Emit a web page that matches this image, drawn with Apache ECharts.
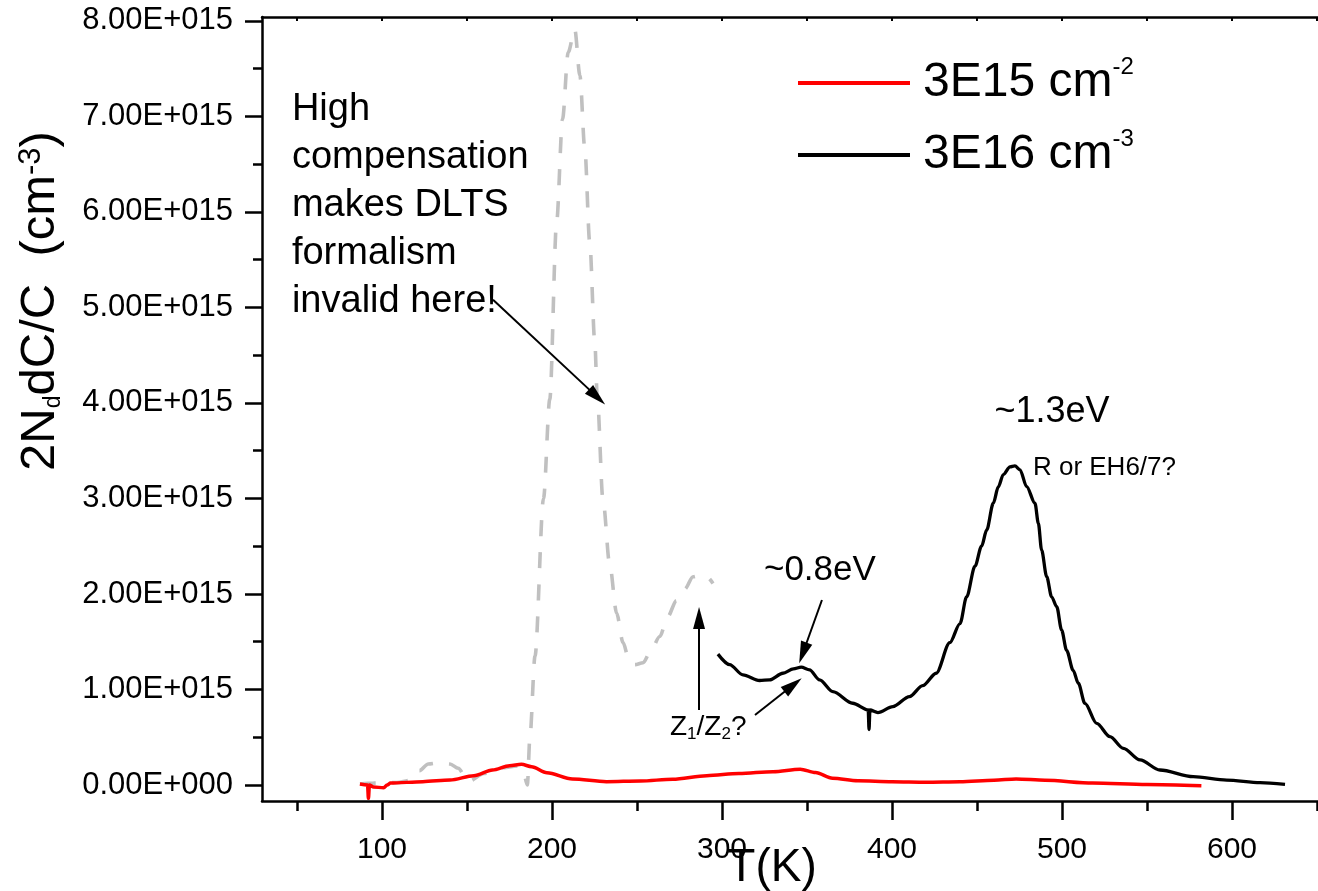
<!DOCTYPE html>
<html><head><meta charset="utf-8">
<script src="https://cdn.jsdelivr.net/npm/echarts@6/dist/echarts.min.js"></script>
<style>html,body{margin:0;padding:0;background:#fff}#c{width:1318px;height:891px}</style>
</head><body><div id="c"></div>
<script>
const FONT = '"Liberation Sans", Arial, Helvetica, sans-serif';

// ---- tick labels / ticks ----
const xMajorTicks = [100, 200, 300, 400, 500, 600];
const xMinorTicks = [50, 150, 250, 350, 450, 550, 650];
const xTopTicks = [50, 100, 150, 200, 250, 300, 350, 400, 450, 500, 550, 600, 650];
const yMajorTicks = [0, 1, 2, 3, 4, 5, 6, 7, 8];           // units of 1E+015
const yMinorTicks = [0.5, 1.5, 2.5, 3.5, 4.5, 5.5, 6.5, 7.5];

// ---- series names ----
const seriesNames = ['3E15 cm-2', '3E16 cm-3'];

// ---- red: 3E15 cm-2 (T in K, value in 1E15 cm-3) ----
const redT = [87, 91.5, 92, 92.6, 95, 101, 103, 105, 124, 140, 154, 165, 175, 182, 188, 197, 212, 232, 252, 271, 291, 310, 330, 346, 355, 365, 380, 400, 420, 440, 460, 473, 490, 518, 550, 582];
const redV = [0.01, 0.0, -0.14, 0.0, -0.02, -0.03, 0.0, 0.02, 0.035, 0.052, 0.098, 0.157, 0.202, 0.217, 0.192, 0.129, 0.063, 0.035, 0.042, 0.06, 0.098, 0.12, 0.14, 0.165, 0.13, 0.07, 0.045, 0.035, 0.03, 0.035, 0.05, 0.063, 0.05, 0.02, 0.005, -0.007];

// ---- black: 3E16 cm-3 ----
const blackT = [297.6, 304.5, 312.3, 322.1, 328.0, 335.8, 342.0, 346.6, 351.5, 357.4, 365.2, 376.9, 386.0, 386.5, 387.0, 391.7, 400.5, 410.3, 418, 426, 434, 440, 443.9, 448.8, 452.7, 455.7, 459.6, 462.5, 465.5, 469.4, 472.3, 475.3, 479.2, 484.1, 486.1, 488, 491, 493.9, 496.9, 499.8, 502.7, 506.6, 509.6, 513.5, 520.4, 528.2, 536.1, 545.9, 557.6, 577.2, 596.9, 616.5, 631.2];
const blackV = [1.37, 1.26, 1.153, 1.094, 1.10, 1.17, 1.215, 1.234, 1.206, 1.10, 0.978, 0.856, 0.785, 0.58, 0.785, 0.758, 0.82, 0.926, 1.04, 1.17, 1.49, 1.69, 1.97, 2.29, 2.50, 2.67, 2.95, 3.12, 3.25, 3.33, 3.34, 3.30, 3.124, 2.95, 2.74, 2.46, 2.18, 1.97, 1.867, 1.62, 1.41, 1.20, 1.065, 0.855, 0.646, 0.506, 0.384, 0.262, 0.157, 0.087, 0.052, 0.024, 0.007];

// ---- grey dashed (invalid region) ----
const greyT = [87, 95, 108.6, 116.5, 122, 127.2, 134, 140, 144.8, 150.7, 160, 170, 180, 183, 185.5, 187, 190, 195, 198.7, 202.7, 206.2, 209.5, 213.4, 216.4, 219.3, 222.2, 225.2, 226.6, 230, 234, 238, 241.8, 245, 248.7, 253.6, 258, 263.4, 268, 273.2, 278, 283, 287.9, 291, 294.7];
const greyV = [0.01, 0.02, 0.025, 0.05, 0.15, 0.22, 0.234, 0.22, 0.175, 0.035, 0.12, 0.18, 0.2, 0.15, 0.0, 0.5, 1.35, 3.0, 4.04, 5.89, 6.97, 7.67, 7.91, 7.43, 6.66, 5.68, 4.63, 4.07, 2.98, 2.3, 1.80, 1.49, 1.33, 1.26, 1.28, 1.40, 1.555, 1.76, 1.93, 2.05, 2.18, 2.20, 2.18, 2.11];

// ---- annotation texts (anchored in data coordinates) ----
const noteTexts = ['High\ncompensation\nmakes DLTS\nformalism\ninvalid here!', '~0.8eV', '~1.3eV', 'R or EH6/7?', 'Z{s|1}/Z{s|2}?'];
const noteAt = [[47.0, 7.32], [357.6, 2.25], [494.1, 3.906], [482.9, 3.32], [269.4, 0.607]];

// ---- arrows: from -> to (data coordinates) ----
const arrowFrom = [[165.3, 5.08], [286.5, 0.785], [319.4, 0.733], [358.8, 1.937]];
const arrowTo = [[226.5, 4.063], [286.5, 1.749], [341.8, 1.047], [347.6, 1.382]];

const zip = (a, b) => a.map((v, i) => [v, b[i]]);
const yFmt = v => (v === 0 ? '0.00E+000' : v.toFixed(2) + 'E+015');

const X_MIN = 29.4, X_MAX = 650.6, Y_MIN = -0.1675, Y_MAX = 8.04;
const axisLineStyle = { color: '#000', width: 2.5 };

const chart = echarts.init(document.getElementById('c'), null, { renderer: 'canvas' });

const option = {
  animation: false,
  backgroundColor: '#fff',
  textStyle: { fontFamily: FONT },
  grid: { left: 262, right: 0, top: 17, bottom: 90, containLabel: false, outerBoundsMode: 'none' },
  legend: {
    data: seriesNames,
    orient: 'vertical',
    left: 798, top: 55,
    padding: 0,
    itemWidth: 112, itemHeight: 4, itemGap: 16,
    icon: 'rect',
    selectedMode: false,
    formatter: n => n.replace(/-(\d)$/, '{sup|-$1}'),
    textStyle: {
      fontSize: 48, fontFamily: FONT, color: '#000', lineHeight: 56, padding: [0, 0, 0, 8],
      rich: { sup: { fontSize: 24, lineHeight: 24, verticalAlign: 'top', fontFamily: FONT, color: '#000' } }
    }
  },
  xAxis: [
    {
      type: 'value', position: 'bottom', min: X_MIN, max: X_MAX,
      name: 'T(K)', nameLocation: 'middle', nameGap: 44, nameMoveOverlap: false,
      nameTextStyle: { fontSize: 46, color: '#000', fontFamily: FONT, padding: [0, 36, 0, 0] },
      axisLine: { show: true, onZero: false, lineStyle: axisLineStyle },
      axisTick: { show: true, inside: false, length: 19, lineStyle: { color: '#000', width: 2.5 }, customValues: xMajorTicks },
      axisLabel: { show: true, customValues: xMajorTicks, margin: 34, fontSize: 30, color: '#000', fontFamily: FONT },
      splitLine: { show: false }
    },
    {
      type: 'value', position: 'bottom', min: X_MIN, max: X_MAX,
      axisLine: { show: false, onZero: false },
      axisTick: { show: true, inside: false, length: 10, lineStyle: { color: '#000', width: 2.5 }, customValues: xMinorTicks },
      axisLabel: { show: false },
      splitLine: { show: false }
    },
    {
      type: 'value', position: 'top', min: X_MIN, max: X_MAX,
      axisLine: { show: true, onZero: false, lineStyle: axisLineStyle },
      axisTick: { show: true, inside: true, length: 4, lineStyle: { color: '#000', width: 2 }, customValues: xTopTicks },
      axisLabel: { show: false },
      splitLine: { show: false }
    }
  ],
  yAxis: [
    {
      type: 'value', position: 'left', min: Y_MIN, max: Y_MAX,
      name: '2N{sub|d}dC/C  (cm{sup|-3})', nameLocation: 'middle', nameRotate: 90, nameGap: 197, nameMoveOverlap: false,
      nameTextStyle: {
        fontSize: 49, color: '#000', fontFamily: FONT, padding: [0, 0, 0, 216],
        rich: {
          sub: { fontSize: 23, verticalAlign: 'bottom', fontFamily: FONT, color: '#000', lineHeight: 27 },
          sup: { fontSize: 31, verticalAlign: 'top', fontFamily: FONT, color: '#000', lineHeight: 28 }
        }
      },
      axisLine: { show: true, onZero: false, lineStyle: axisLineStyle },
      axisTick: { show: true, inside: false, length: 17, lineStyle: { color: '#000', width: 2.5 }, customValues: yMajorTicks },
      axisLabel: { show: true, customValues: yMajorTicks, margin: 29, fontSize: 31, color: '#000', fontFamily: FONT, formatter: yFmt },
      splitLine: { show: false }
    },
    {
      type: 'value', position: 'left', min: Y_MIN, max: Y_MAX,
      axisLine: { show: false, onZero: false },
      axisTick: { show: true, inside: false, length: 9, lineStyle: { color: '#000', width: 2.5 }, customValues: yMinorTicks },
      axisLabel: { show: false },
      splitLine: { show: false }
    }
  ],
  series: [
    {
      name: 'grey', type: 'line', xAxisIndex: 0, yAxisIndex: 0,
      data: zip(greyT, greyV), showSymbol: false, smooth: 0.3, smoothMonotone: 'x', silent: true,
      lineStyle: { color: '#c0c0c0', width: 3.6, type: [16, 16] }, z: 2
    },
    {
      name: seriesNames[0], type: 'line', xAxisIndex: 0, yAxisIndex: 0,
      data: zip(redT, redV), showSymbol: false, smooth: 0.3, smoothMonotone: 'x', silent: true,
      color: '#ff0000', lineStyle: { color: '#ff0000', width: 3.5 }, z: 3
    },
    {
      name: seriesNames[1], type: 'line', xAxisIndex: 0, yAxisIndex: 0,
      data: zip(blackT, blackV), showSymbol: false, smooth: 0.3, smoothMonotone: 'x', silent: true,
      color: '#000000', lineStyle: { color: '#000000', width: 3.3 }, z: 4
    },
    {
      name: 'arrows', type: 'line', xAxisIndex: 0, yAxisIndex: 0, data: [], silent: true,
      markLine: {
        silent: true, animation: false,
        symbol: ['none', 'triangle'], symbolSize: [12, 22],
        label: { show: false },
        lineStyle: { color: '#000', width: 2, type: 'solid' },
        emphasis: { disabled: true },
        data: arrowFrom.map((f, i) => [{ coord: f }, { coord: arrowTo[i] }])
      }, z: 5
    }
  ]
};
chart.setOption(option);

const toPx = p => chart.convertToPixel({ xAxisIndex: 0, yAxisIndex: 0 }, p);
const noteStyle = [
  { fontSize: 38, lineHeight: 48, align: 'left', verticalAlign: 'top' },
  { fontSize: 35, align: 'center', verticalAlign: 'middle' },
  { fontSize: 36, align: 'center', verticalAlign: 'middle' },
  { fontSize: 26, align: 'left', verticalAlign: 'middle' },
  { fontSize: 28, lineHeight: 32, align: 'left', verticalAlign: 'middle',
    rich: { s: { fontSize: 17, verticalAlign: 'bottom', lineHeight: 20, fontFamily: FONT, fill: '#000' } } }
];
chart.setOption({
  graphic: noteTexts.map((t, i) => {
    const [x, y] = toPx(noteAt[i]);
    return {
      type: 'text', x, y, silent: true, z: 10,
      style: Object.assign({ text: t, fill: '#000', fontFamily: FONT }, noteStyle[i])
    };
  })
});
</script>
</body></html>
